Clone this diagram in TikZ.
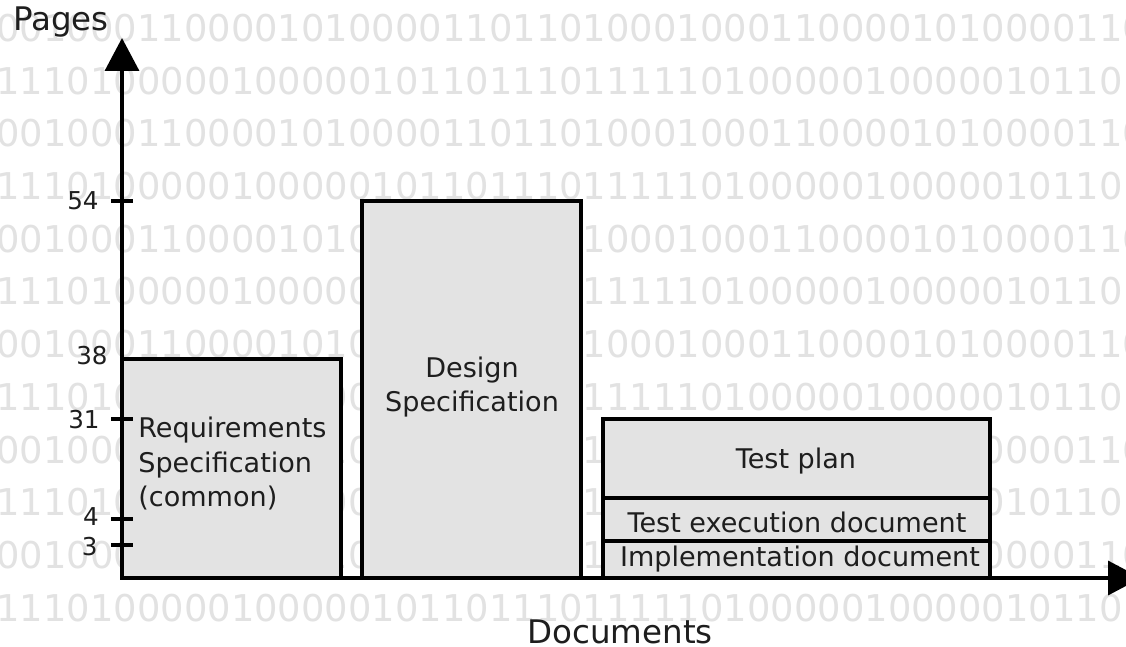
\documentclass[tikz,border=0pt]{standalone}
\usepackage{fontspec}
\setmainfont{DejaVu Sans}
\usetikzlibrary{arrows.meta}
\definecolor{barfill}{RGB}{227,227,227}
\definecolor{bitgray}{RGB}{226,226,226}
\definecolor{ink}{RGB}{30,30,30}
\begin{document}
\begin{tikzpicture}[x=0.02cm, y=-0.02cm, line join=miter, >={Triangle[length=0.66cm,width=0.68cm]},
	bar/.style={draw=black, fill=barfill, line width=2pt},
	axis/.style={line width=2pt},
	lbl/.style={text=ink, inner sep=0pt, font=\fontsize{15.4}{19.8}\selectfont},
	big/.style={text=ink, inner sep=0pt, font=\fontsize{18.5}{22}\selectfont},
	num/.style={text=ink, inner sep=0pt, anchor=east, font=\fontsize{14}{16}\selectfont}]
	\useasboundingbox (0,0) rectangle (1126,646);
	\clip (0,0) rectangle (1126,646);
	\fill[white] (0,0) rectangle (1126,646);
	% background bits
	\def\bitsA{0010001100001010000110110100010001100001010000110}
	\def\bitsB{1110100000100000101101110111110100000100000101101}
	\foreach \k in {0,...,11}{
		\pgfmathsetmacro\yy{28+52.7*\k}
		\ifodd\k \def\bits{\bitsB}\else \def\bits{\bitsA}\fi
		\node[anchor=west, inner sep=0pt, text=bitgray, font=\fontsize{21}{21}\selectfont] (bits\k) at (-4,\yy) {\bits};
	}
	\coordinate (O) at (122,578);
	\coordinate (ytip) at (122,38);
	\coordinate (xtip) at (1141,578);
	
	\draw[bar] (122,578) rectangle (341,359);
	\draw[bar] (362,578) rectangle (581,201);
	\draw[bar] (603,578) rectangle (990,419);
	\coordinate (s1) at (603,498); \coordinate (e1) at (990,498);
	\coordinate (s2) at (603,541); \coordinate (e2) at (990,541);
	\draw[axis] (s1)--(e1) (s2)--(e2);
	
	\draw[axis,->] (O)--(ytip);
	\draw[axis,->] (O)--(xtip);
	
	\foreach \y/\t in {201/54,419/31,519/4,545/3}\draw[axis] (111,\y)--(133,\y);
	\foreach \y/\t/\x in {201/54/99,356/38/108,420/31/100,517/4/99,547/3/98}\node[num] (tick\t) at (\x,\y) {\t};
	
	\node[big, anchor=base] (pages) at (61,30) {Pages};
	\node[big, anchor=base] (docs) at (620,643) {Documents};
	
	\node[lbl, align=left, anchor=west] (req) at (138,463.5) {Requirements\\Specification\\(common)};
	\node[lbl, align=center] (des) at (472,387) {Design\\Specification};
	\node[lbl] (plan) at (796,461) {Test plan};
	\node[lbl] (exec) at (797,522) {Test execution document};
	\node[lbl] (impl) at (800,559.5) {Implementation document};
\end{tikzpicture}
\end{document}
